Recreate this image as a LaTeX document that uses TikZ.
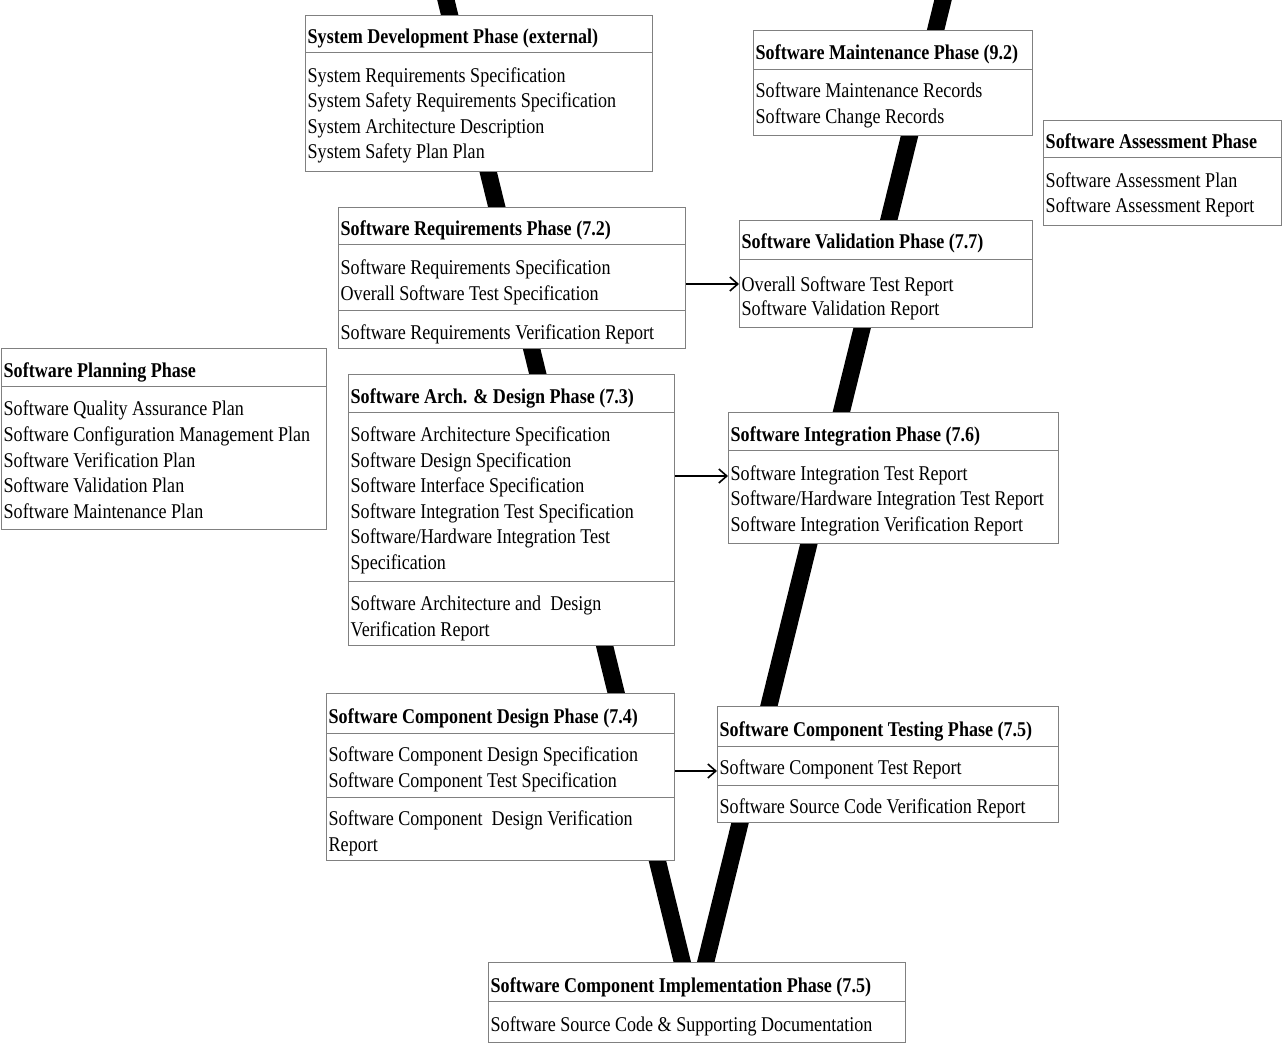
\documentclass[tikz,border=0pt]{standalone}
\usepackage{fontspec}
\setmainfont{Liberation Serif}[FakeStretch=0.86]
\usetikzlibrary{arrows.meta}
\tikzset{
  x=1pt, y=1pt,
  boxnode/.style={draw=black!50, line width=1pt, fill=white, anchor=north west, inner sep=0pt, rectangle},
  sepline/.style={draw=black!50, line width=1pt},
  txt/.style={anchor=west, inner sep=0pt, text height=21pt, text depth=5pt, font=\fontsize{21}{25.5}\selectfont},
  ttl/.style={txt, font=\fontsize{21}{25.5}\selectfont\bfseries},
  vleg/.style={line width=17pt, line cap=butt},
  arr/.style={line width=1.6pt, -{Straight Barb[length=8pt,width=14pt,line width=1.6pt]}},
}
% \Pbox{name}{x1}{y1}{x2}{y2}
\newcommand{\Pbox}[5]{\node[boxnode, minimum width=#4-#2, minimum height=#5-#3] (#1) at (#2,-#3) {};}
% \Psep{box}{y}
\newcommand{\Psep}[2]{\draw[sepline] (#1.west |- 0,-#2) -- (#1.east |- 0,-#2);}
% \Ptl{name}{box}{y}{text}
\newcommand{\Ptl}[4]{\node[ttl] (#1) at ([xshift=2.5pt]#2.west |- 0,-#3) {#4};}
\newcommand{\Pit}[4]{\node[txt] (#1) at ([xshift=2.5pt]#2.west |- 0,-#3) {#4};}
\begin{document}
\begin{tikzpicture}
\useasboundingbox (0,0) rectangle (1283,-1043);
\fill[white] (0,0) rectangle (1283,-1043);
% V legs
\coordinate (ltop) at (443.5,10);
\coordinate (lbot) at (683,-965);
\coordinate (rtop) at (945.5,10);
\coordinate (rbot) at (705,-965);
\draw[vleg] (ltop) -- (lbot);
\draw[vleg] (rtop) -- (rbot);

% System Development
\Pbox{sys}{305}{15}{652}{171}
\Psep{sys}{53}
\Ptl{sysT}{sys}{36}{System Development Phase (external)}
\Pit{sys1}{sys}{75}{System Requirements Specification}
\Pit{sys2}{sys}{100}{System Safety Requirements Specification}
\Pit{sys3}{sys}{126}{System Architecture Description}
\Pit{sys4}{sys}{151}{System Safety Plan Plan}

% Software Requirements
\Pbox{req}{338}{207}{685}{348}
\Psep{req}{245}
\Psep{req}{310}
\Ptl{reqT}{req}{228}{Software Requirements Phase (7.2)}
\Pit{req1}{req}{267}{Software Requirements Specification}
\Pit{req2}{req}{292}{Overall Software Test Specification}
\Pit{req3}{req}{331}{Software Requirements Verification Report}

% Planning
\Pbox{plan}{1}{348}{326}{529}
\Psep{plan}{386}
\Ptl{planT}{plan}{369}{Software Planning Phase}
\Pit{plan1}{plan}{407}{Software Quality Assurance Plan}
\Pit{plan2}{plan}{433}{Software Configuration Management Plan}
\Pit{plan3}{plan}{459}{Software Verification Plan}
\Pit{plan4}{plan}{484}{Software Validation Plan}
\Pit{plan5}{plan}{510}{Software Maintenance Plan}

% Arch & Design
\Pbox{arch}{348}{374}{674}{645}
\Psep{arch}{412}
\Psep{arch}{581}
\Ptl{archT}{arch}{395}{Software Arch. \& Design Phase (7.3)}
\Pit{arch1}{arch}{433}{Software Architecture Specification}
\Pit{arch2}{arch}{459}{Software Design Specification}
\Pit{arch3}{arch}{484}{Software Interface Specification}
\Pit{arch4}{arch}{510}{Software Integration Test Specification}
\Pit{arch5}{arch}{535}{Software/Hardware Integration Test}
\Pit{arch6}{arch}{561}{Specification}
\Pit{arch7}{arch}{602}{Software Architecture and\ \ Design}
\Pit{arch8}{arch}{628}{Verification Report}

% Component Design
\Pbox{cdes}{326}{693}{674}{860}
\Psep{cdes}{733}
\Psep{cdes}{797}
\Ptl{cdesT}{cdes}{715}{Software Component Design Phase (7.4)}
\Pit{cdes1}{cdes}{753}{Software Component Design Specification}
\Pit{cdes2}{cdes}{779}{Software Component Test Specification}
\Pit{cdes3}{cdes}{817}{Software Component\ \ Design Verification}
\Pit{cdes4}{cdes}{843}{Report}

% Implementation
\Pbox{impl}{488}{962}{905}{1042}
\Psep{impl}{1001}
\Ptl{implT}{impl}{984}{Software Component Implementation Phase (7.5)}
\Pit{impl1}{impl}{1023}{Software Source Code \& Supporting Documentation}

% Maintenance
\Pbox{maint}{753}{30}{1032}{135}
\Psep{maint}{70}
\Ptl{maintT}{maint}{52}{Software Maintenance Phase (9.2)}
\Pit{maint1}{maint}{90}{Software Maintenance Records}
\Pit{maint2}{maint}{116}{Software Change Records}

% Assessment
\Pbox{ass}{1043}{120}{1281}{225}
\Psep{ass}{158}
\Ptl{assT}{ass}{141}{Software Assessment Phase}
\Pit{ass1}{ass}{180}{Software Assessment Plan}
\Pit{ass2}{ass}{205}{Software Assessment Report}

% Validation
\Pbox{val}{739}{220}{1032}{327}
\Psep{val}{260}
\Ptl{valT}{val}{241}{Software Validation Phase (7.7)}
\Pit{val1}{val}{283}{Overall Software Test Report}
\Pit{val2}{val}{308}{Software Validation Report}

% Integration
\Pbox{integ}{728}{412}{1058}{543}
\Psep{integ}{450}
\Ptl{integT}{integ}{433}{Software Integration Phase (7.6)}
\Pit{integ1}{integ}{472}{Software Integration Test Report}
\Pit{integ2}{integ}{497}{Software/Hardware Integration Test Report}
\Pit{integ3}{integ}{523}{Software Integration Verification Report}

% Component Testing
\Pbox{test}{717}{706}{1058}{822}
\Psep{test}{746}
\Psep{test}{785}
\Ptl{testT}{test}{728}{Software Component Testing Phase (7.5)}
\Pit{test1}{test}{766}{Software Component Test Report}
\Pit{test2}{test}{805}{Software Source Code Verification Report}

% Arrows
\draw[arr] ([yshift=-1pt]req.east |- val1) -- ([yshift=-1pt]val.west |- val1);
\draw[arr] ([yshift=-4pt]arch.east |- integ1) -- ([yshift=-4pt]integ.west |- integ1);
\draw[arr] ([yshift=-5pt]cdes.east |- test1) -- ([yshift=-5pt]test.west |- test1);
\end{tikzpicture}
\end{document}
